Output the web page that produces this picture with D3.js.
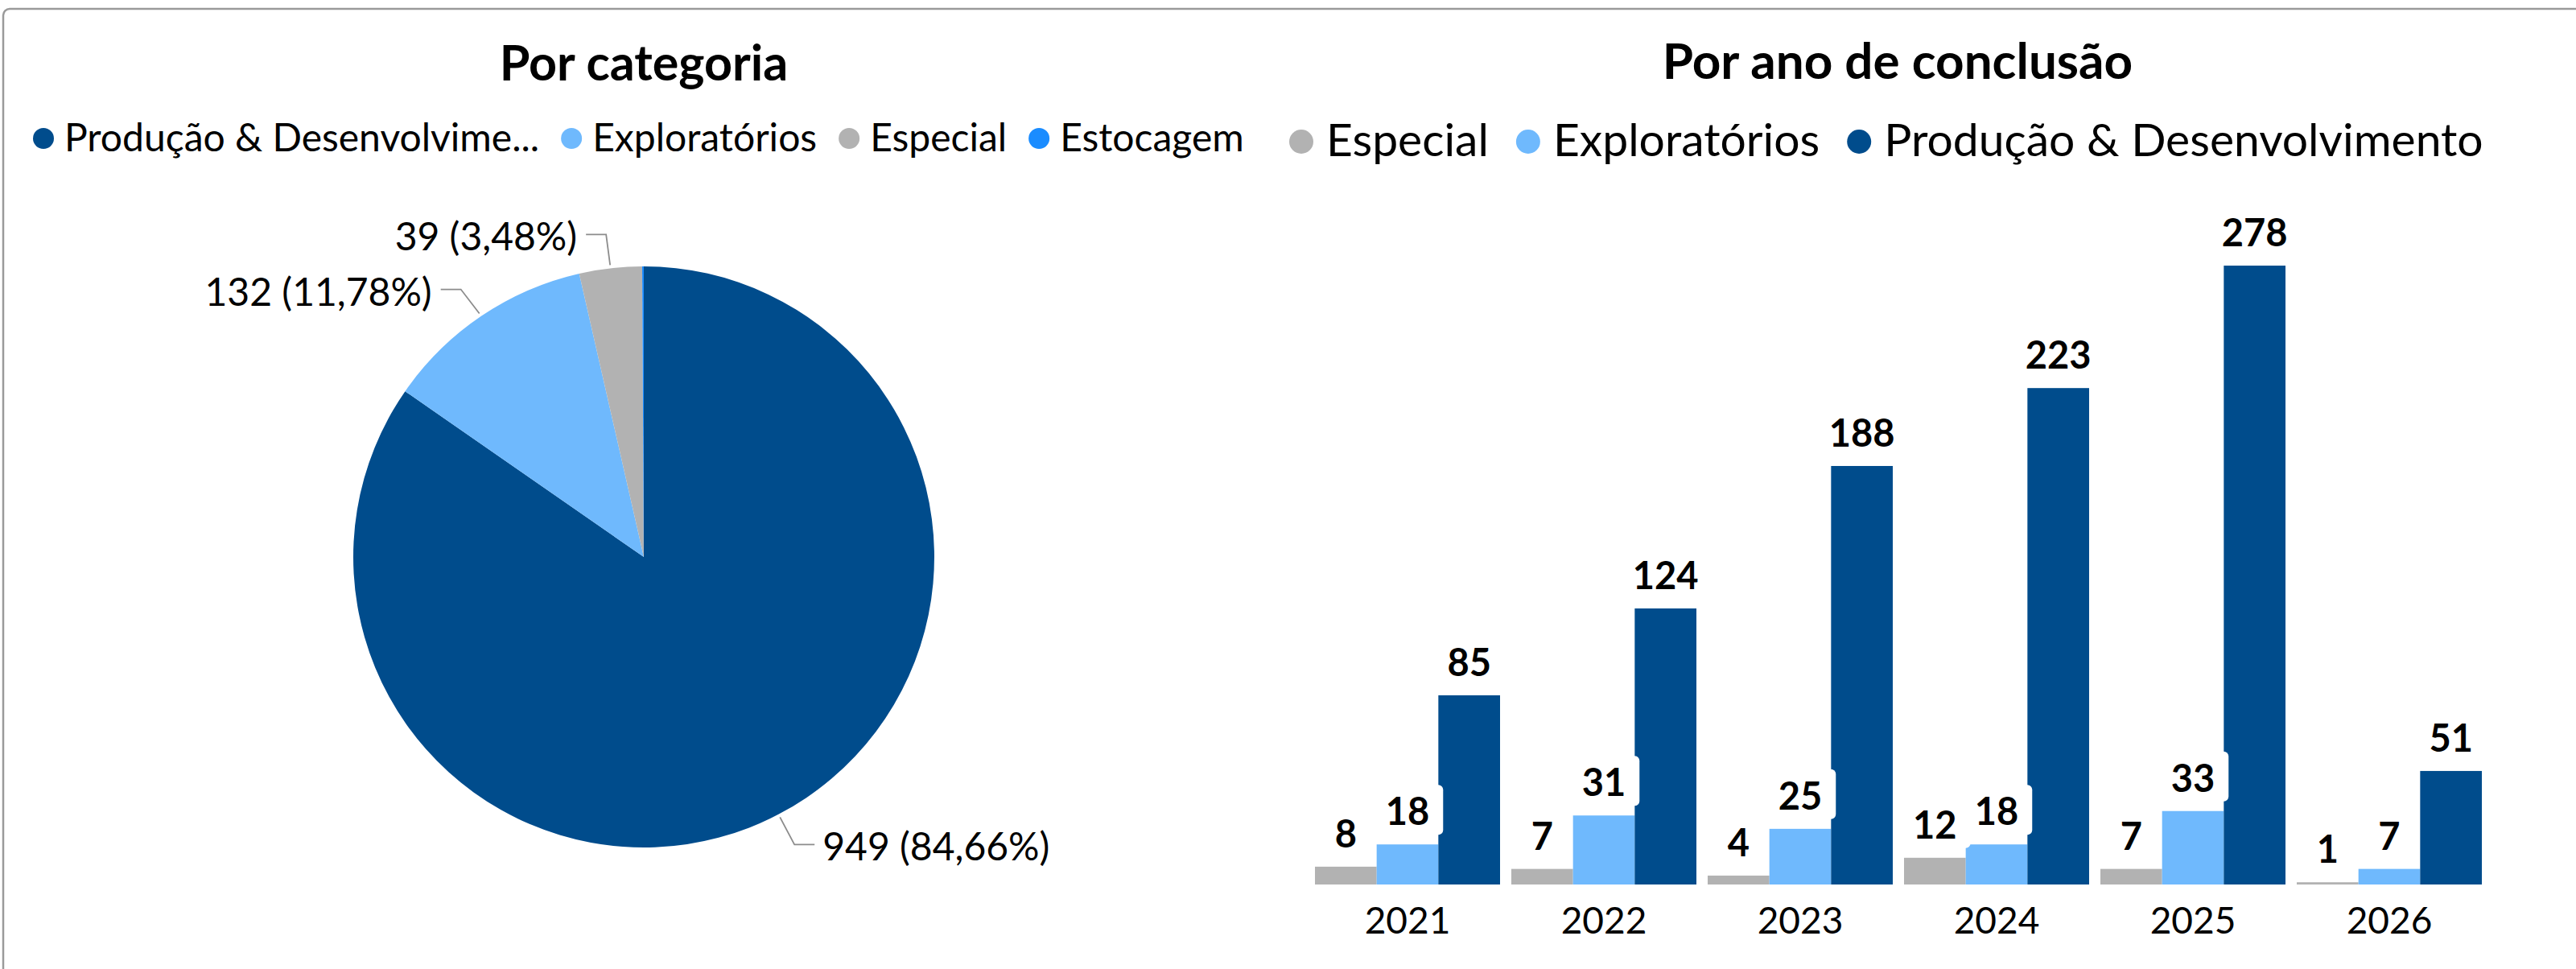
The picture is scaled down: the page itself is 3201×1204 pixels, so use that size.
<!DOCTYPE html>
<html>
<head>
<meta charset="utf-8">
<script src="https://cdn.jsdelivr.net/npm/d3@7"></script>
<style>
  body { margin: 0; background: #fff; }
  svg { display: block; font-family: Lato, "Open Sans", sans-serif; }
</style>
</head>
<body>
<svg id="chart"></svg>
<script>
// pie: totals per category
const categories = ['Produção & Desenvolvimento', 'Exploratórios', 'Especial', 'Estocagem'];
const categoryTotals = [949, 132, 39, 1];
const pieLabels = ['949 (84,66%)', '132 (11,78%)', '39 (3,48%)', null];

// bars: per year of conclusion
const years = ['2021', '2022', '2023', '2024', '2025', '2026'];
const barSeries = ['Especial', 'Exploratórios', 'Produção & Desenvolvimento'];
const especial = [8, 7, 4, 12, 7, 1];
const exploratorios = [18, 31, 25, 18, 33, 7];
const producao = [85, 124, 188, 223, 278, 51];

const colors = {
  'Produção & Desenvolvimento': '#004c8c',
  'Exploratórios': '#6fb9fd',
  'Especial': '#b2b2b2',
  'Estocagem': '#1a8cff'
};

const width = 3201;
const height = 1204;

const svg = d3.select('#chart').attr('width', width).attr('height', height);

// outer frame (runs off right / bottom edge)
svg.append('rect')
  .attr('x', 4).attr('y', 11)
  .attr('width', width + 20).attr('height', height + 20)
  .attr('rx', 8)
  .attr('fill', '#fff')
  .attr('stroke', '#9a9a9a')
  .attr('stroke-width', 2.5);

// ---------- legend helper ----------
function legend(items, labels, x0, yText, yDot, r, fontSize, textGap, itemGap) {
  const g = svg.append('g');
  let x = x0;
  items.forEach((name, i) => {
    g.append('circle')
      .attr('cx', x + r).attr('cy', yDot).attr('r', r)
      .attr('fill', colors[name]);
    const t = g.append('text')
      .attr('x', x + r + textGap).attr('y', yText)
      .attr('font-size', fontSize)
      .attr('fill', '#000')
      .text(labels[i]);
    x = x + r + textGap + t.node().getComputedTextLength() + itemGap;
  });
}

// ---------- left: pie ----------
svg.append('text')
  .attr('x', 800).attr('y', 100)
  .attr('text-anchor', 'middle')
  .attr('font-size', 61).attr('font-weight', 700)
  .text('Por categoria');

legend(categories, ['Produção & Desenvolvime...', 'Exploratórios', 'Especial', 'Estocagem'],
  41, 188, 172, 13, 48, 26, 27);

const cx = 800, cy = 692, radius = 361;
const pie = d3.pie().sort(null).value(d => d.value);
const arcs = pie(categories.map((c, i) => ({ name: c, value: categoryTotals[i], label: pieLabels[i] })));
const arc = d3.arc().innerRadius(0).outerRadius(radius);

const pg = svg.append('g').attr('transform', `translate(${cx},${cy})`);
pg.selectAll('path')
  .data(arcs)
  .enter()
  .append('path')
  .attr('d', arc)
  .attr('fill', d => colors[d.data.name]);

// leader lines: elbow offsets from the slice edge (layout only)
const leaderLayout = [
  { dx: 18, dy: 34, len: 25, anchor: 'start' },
  { dx: -23, dy: -30, len: -25, anchor: 'end' },
  { dx: -5, dy: -38, len: -25, anchor: 'end' }
];

arcs.forEach((d, i) => {
  if (!d.data.label) return;
  const a = (d.startAngle + d.endAngle) / 2;
  const p0 = [Math.sin(a) * (radius + 4), -Math.cos(a) * (radius + 4)];
  const L = leaderLayout[i];
  const p1 = [p0[0] + L.dx, p0[1] + L.dy];
  const p2 = [p1[0] + L.len, p1[1]];
  pg.append('polyline')
    .attr('points', [p0, p1, p2].map(p => p.join(',')).join(' '))
    .attr('fill', 'none')
    .attr('stroke', '#8c8c8c')
    .attr('stroke-width', 1.8);
  pg.append('text')
    .attr('x', p2[0] + (L.anchor === 'start' ? 10 : -11))
    .attr('y', p2[1] + 20)
    .attr('text-anchor', L.anchor)
    .attr('font-size', 48)
    .attr('fill', '#000')
    .text(d.data.label);
});

// ---------- right: grouped bars ----------
svg.append('text')
  .attr('x', 2358).attr('y', 98)
  .attr('text-anchor', 'middle')
  .attr('font-size', 62).attr('font-weight', 700)
  .text('Por ano de conclusão');

legend(barSeries, barSeries, 1602, 194, 176, 15, 57, 31, 34);

const seriesValues = [especial, exploratorios, producao];
const rows = years.map((y, i) => ({ year: y, values: barSeries.map((s, j) => ({ key: s, value: seriesValues[j][i] })) }));

const x0 = d3.scaleBand()
  .domain(years)
  .range([1627, 3091])
  .paddingInner(0.0574)
  .paddingOuter(0.0287);

const x1 = d3.scaleBand()
  .domain(barSeries)
  .range([0, x0.bandwidth()]);

const y = d3.scaleLinear()
  .domain([0, 300])
  .range([1099, 269.2]);

const groups = svg.append('g')
  .selectAll('g')
  .data(rows)
  .enter()
  .append('g')
  .attr('transform', d => `translate(${x0(d.year)},0)`);

groups.selectAll('rect.bar')
  .data(d => d.values)
  .enter()
  .append('rect')
  .attr('class', 'bar')
  .attr('x', d => x1(d.key))
  .attr('y', d => y(d.value))
  .attr('width', x1.bandwidth())
  .attr('height', d => y(0) - y(d.value))
  .attr('fill', d => colors[d.key]);

// value labels with white boxes
const lg = groups.selectAll('g.lbl')
  .data(d => d.values)
  .enter()
  .append('g')
  .attr('class', 'lbl');

lg.each(function(d) {
  const g = d3.select(this);
  const cxl = x1(d.key) + x1.bandwidth() / 2;
  const base = y(d.value) - 24;
  const box = g.append('rect');
  const t = g.append('text')
    .attr('x', cxl).attr('y', base)
    .attr('text-anchor', 'middle')
    .attr('font-size', 47).attr('font-weight', 700)
    .attr('fill', '#000')
    .text(d.value);
  const w = t.node().getComputedTextLength() + 34;
  box.attr('x', cxl - w / 2).attr('y', base - 50)
    .attr('width', w).attr('height', 62)
    .attr('rx', 6)
    .attr('fill', '#fff');
});

// year axis labels (no axis line)
const xAxis = d3.axisBottom(x0).tickSize(0).tickPadding(0);
const ax = svg.append('g')
  .attr('transform', `translate(0,1099)`)
  .call(xAxis);
ax.select('.domain').remove();
ax.selectAll('text')
  .attr('font-size', 46)
  .attr('font-family', 'Lato, "Open Sans", sans-serif')
  .attr('fill', '#000')
  .attr('dy', 0)
  .attr('y', 61);
</script>
</body>
</html>
